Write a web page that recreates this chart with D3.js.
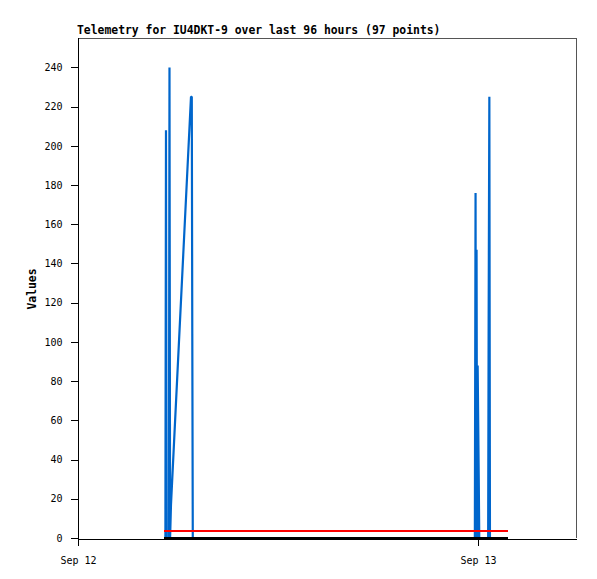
<!DOCTYPE html>
<html><head><meta charset="utf-8">
<script src="https://cdn.jsdelivr.net/npm/d3@7"></script>
<style>body{margin:0;background:#fff}svg{display:block}</style>
</head><body>
<svg id="chart" width="597" height="579"></svg>
<script>
// ---- data ----
const times = [
  "2023-09-12 05:09:36","2023-09-12 05:14:38","2023-09-12 05:16:48","2023-09-12 05:18:58",
  "2023-09-12 05:27:14","2023-09-12 05:29:24","2023-09-12 05:31:34","2023-09-12 05:34:48",
  "2023-09-12 06:46:48","2023-09-12 06:49:41","2023-09-12 06:51:29","2023-09-12 06:53:17",
  "2023-09-12 23:48:50","2023-09-12 23:51:22","2023-09-12 23:53:10","2023-09-12 23:54:58",
  "2023-09-12 23:56:46","2023-09-12 23:58:55","2023-09-13 00:02:53","2023-09-13 00:04:41",
  "2023-09-13 00:36:43","2023-09-13 00:38:31","2023-09-13 00:41:02","2023-09-13 00:43:12",
  "2023-09-13 01:48:00"
];
const blueValues  = [0,0,208,0, 0,240,0,17, 225,225,104,0, 0,176,0,147, 0,88,30,0, 0,112,225,0, 0];
const redValues   = times.map(() => 3.6);
const blackValues = times.map(() => 0);
const yTicks = [0,20,40,60,80,100,120,140,160,180,200,220,240];
const xDomain = ["2023-09-12 00:00:00","2023-09-13 05:53:00"];
const yDomain = [0,255];
const titleText = "Telemetry for IU4DKT-9 over last 96 hours (97 points)";
const yLabel = "Values";

// ---- layout ----
const L = 78, R = 576, T = 38, B = 538;
const parse = d3.timeParse("%Y-%m-%d %H:%M:%S");
const tDates = times.map(parse);
const x = d3.scaleTime().domain(xDomain.map(parse)).range([L, R]);
const y = d3.scaleLinear().domain(yDomain).range([B, T]);
const svg = d3.select("#chart");
const mono = "'DejaVu Sans Mono', 'Liberation Mono', monospace";

svg.append("rect").attr("x", 0).attr("y", 0).attr("width", 597).attr("height", 579).attr("fill", "#fff");

// frame (top / right)
svg.append("path").attr("d", `M${L},${T+0.5}H${R+0.5}V${B}`)
  .attr("fill", "none").attr("stroke", "#555").attr("stroke-width", 1).attr("shape-rendering", "crispEdges");

// series
const series = [
  {vals: blueValues, color: "#0066cc", crisp: false},
  {vals: redValues, color: "#ff0000", crisp: true},
  {vals: blackValues, color: "#000000", crisp: true}
];
series.forEach(s => {
  const line = d3.line().x((d, i) => x(tDates[i])).y(d => y(d));
  svg.append("path").datum(s.vals).attr("d", line)
    .attr("fill", "none").attr("stroke", s.color).attr("stroke-width", s.crisp ? 2 : 2.2)
    .attr("stroke-linejoin", "bevel")
    .attr("shape-rendering", s.crisp ? "crispEdges" : "auto");
});

// axes
const yAxis = d3.axisLeft(y).tickValues(yTicks).tickSize(8).tickPadding(8).tickSizeOuter(0);
const gy = svg.append("g").attr("transform", `translate(${L+0.5},0)`).call(yAxis);
gy.select(".domain").attr("d", `M0,${T}V${B+0.5}`);
gy.selectAll("text").attr("font-family", mono).attr("font-size", "10px").attr("fill", "#000");
gy.selectAll("line,path").attr("shape-rendering", "crispEdges").attr("stroke", "#000");

const xAxis = d3.axisBottom(x).ticks(d3.timeDay.every(1)).tickFormat(d3.timeFormat("%b %d"))
  .tickSize(7).tickPadding(11).tickSizeOuter(0);
const gx = svg.append("g").attr("transform", `translate(0,${B+0.5})`).call(xAxis);
gx.selectAll("text").attr("font-family", mono).attr("font-size", "10px").attr("fill", "#000");
gx.selectAll("line,path").attr("shape-rendering", "crispEdges").attr("stroke", "#000");

// title & label
svg.append("text").attr("x", 77).attr("y", 34).text(titleText)
  .attr("font-family", mono).attr("font-weight", "bold").attr("font-size", "11.4px").attr("fill", "#000");
svg.append("text").attr("transform", "translate(36,289) rotate(-90)").attr("text-anchor", "middle")
  .text(yLabel).attr("font-family", mono).attr("font-weight", "bold").attr("font-size", "11.4px").attr("fill", "#000");
</script>
</body></html>
